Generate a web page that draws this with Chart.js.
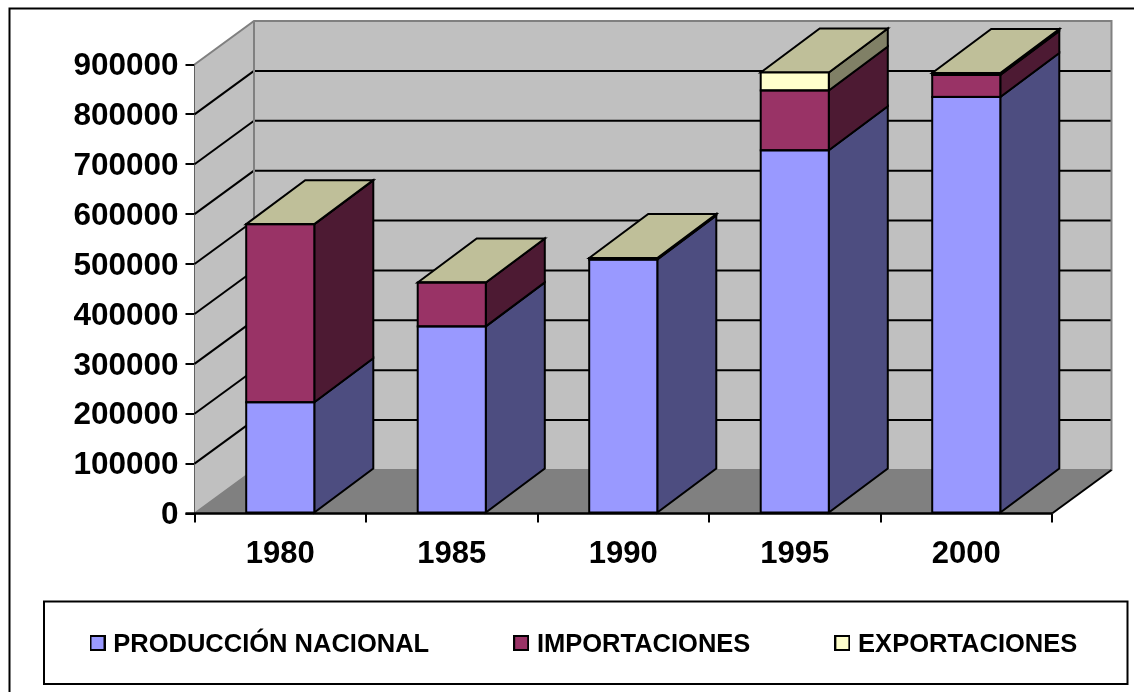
<!DOCTYPE html>
<html><head><meta charset="utf-8">
<style>html,body{margin:0;padding:0;background:#fff}#w{width:1134px;height:692px;position:relative}canvas{display:block}</style>
<script src="https://cdn.jsdelivr.net/npm/chart.js@4"></script>
</head><body><div id="w"><canvas id="c" width="1134" height="692"></canvas></div>
<script>
const years = ['1980','1985','1990','1995','2000'];
const produccion = [223000,375000,509000,728000,835000];
const importaciones = [357000,88000,2000,120000,44000];
const exportaciones = [0,0,1000,36000,4000];
const axisMax = 900000, axisStep = 100000;
const DX = 59.5, DY = -43.5;
const BAR_DX = 59, BAR_DY = -44;
const sideColors = ['#4D4D80','#4D1A33','#808066'];
const topColor = '#BFBF99';
const FONT = '"Liberation Sans",Arial,sans-serif';

function poly(ctx, pts, fill, stroke, lw){
  ctx.beginPath();
  pts.forEach((p,i)=> i?ctx.lineTo(p[0],p[1]):ctx.moveTo(p[0],p[1]));
  ctx.closePath();
  if(fill){ctx.fillStyle=fill;ctx.fill();}
  if(stroke){ctx.strokeStyle=stroke;ctx.lineWidth=lw||2;ctx.lineJoin='miter';ctx.stroke();}
}
function line(ctx,x1,y1,x2,y2,c,lw){
  ctx.beginPath();ctx.moveTo(x1,y1);ctx.lineTo(x2,y2);ctx.strokeStyle=c;ctx.lineWidth=lw;ctx.stroke();
}
function swatch(color){
  const c=document.createElement('canvas');c.width=16;c.height=20;
  const g=c.getContext('2d');
  g.fillStyle='#000';g.fillRect(0,0,16,16);
  g.fillStyle=color;g.fillRect(2,2,12,12);
  return c;
}
const LEGEND_PAD = 89;
const threeD = {
  id:'threeD',
  beforeLayout(chart){
    const lg=chart.legend;
    if(lg && !lg._wrapped){
      const f=lg.fit;
      lg.fit=function(){ this.maxWidth=4000; f.call(this); this.width=1134; this.height=83; };
      lg._wrapped=true;
    }
  },
  afterLayout(chart){
    const lg=chart.legend;
    lg.left=94.5-LEGEND_PAD; lg.right=lg.left+4000;
    lg.top=645-LEGEND_PAD-12.75; lg.bottom=lg.top+400;
  },
  beforeDraw(chart){
    const ctx=chart.ctx;
    ctx.save();
    ctx.fillStyle='#fff';ctx.fillRect(0,0,chart.width,chart.height);
    ctx.beginPath();ctx.moveTo(9.5,chart.height+2);ctx.lineTo(9.5,8.5);ctx.lineTo(chart.width+2,8.5);
    ctx.strokeStyle='#000';ctx.lineWidth=2;ctx.stroke();
    ctx.strokeStyle='#000';ctx.lineWidth=2;
    ctx.strokeRect(44,601.5,1083.5,82.5);
    ctx.restore();
    chart.scales.y.getLabelItems().forEach(it=>{
      if(!it._moved){ it._moved=true; it.options.translation=[it.options.translation[0],it.options.translation[1]+2]; }
    });
  },
  beforeDatasetsDraw(chart){
    const ctx=chart.ctx, {y}=chart.scales, a=chart.chartArea;
    const L=a.left,R=a.right,T=a.top,B=a.bottom;
    ctx.save();
    poly(ctx,[[L+DX,T+DY],[R+DX,T+DY],[R+DX,B+DY],[L+DX,B+DY]],'#C0C0C0');
    poly(ctx,[[L,T],[L+DX,T+DY],[L+DX,B+DY],[L,B]],'#C0C0C0');
    poly(ctx,[[L,B],[L+DX,B+DY],[R+DX,B+DY],[R,B]],'#808080');
    y.ticks.forEach(t=>{
      if(t.value===0||t.value===axisMax) return;
      const py=y.getPixelForValue(t.value);
      line(ctx,L,py,L+DX,py+DY,'#000',2);
      line(ctx,L+DX,py+DY,R+DX,py+DY,'#000',2);
    });
    ctx.beginPath();
    ctx.moveTo(L,T);ctx.lineTo(L+DX,T+DY);ctx.lineTo(R+DX,T+DY);ctx.lineTo(R+DX,B+DY);
    ctx.lineTo(L+DX,B+DY);ctx.lineTo(L,B);
    ctx.moveTo(L+DX,T+DY);ctx.lineTo(L+DX,B+DY);
    ctx.strokeStyle='#808080';ctx.lineWidth=2;ctx.stroke();
    line(ctx,R,B,R+DX,B+DY,'#000',2);
    chart.data.datasets.forEach((ds,i)=>{
      chart.getDatasetMeta(i).data.forEach(b=>{
        const r=b.x+b.width/2;
        poly(ctx,[[r,b.y],[r+BAR_DX,b.y+BAR_DY],[r+BAR_DX,b.base+BAR_DY],[r,b.base]],sideColors[i],'#000',2);
      });
    });
    const last=chart.data.datasets.length-1;
    chart.getDatasetMeta(last).data.forEach(b=>{
      const l=b.x-b.width/2,r=b.x+b.width/2;
      poly(ctx,[[l,b.y],[l+BAR_DX,b.y+BAR_DY],[r+BAR_DX,b.y+BAR_DY],[r,b.y]],topColor,'#000',2);
    });
    ctx.restore();
  },
  afterDatasetsDraw(chart){
    const ctx=chart.ctx;
    ctx.save();
    chart.data.datasets.forEach((ds,i)=>{
      chart.getDatasetMeta(i).data.forEach(b=>{
        const l=b.x-b.width/2,r=b.x+b.width/2;
        ctx.strokeStyle='#000';ctx.lineWidth=2;
        ctx.strokeRect(l,b.y,r-l,b.base-b.y);
      });
    });
    const a=chart.chartArea;
    line(ctx,a.left-9,a.bottom,a.right,a.bottom,'#000',2.5);
    ctx.restore();
  }
};
new Chart(document.getElementById('c'),{
  type:'bar',
  plugins:[threeD],
  data:{labels:years,datasets:[
    {label:'PRODUCCIÓN NACIONAL',data:produccion,backgroundColor:'#9999FF'},
    {label:'IMPORTACIONES',data:importaciones,backgroundColor:'#993366'},
    {label:'EXPORTACIONES',data:exportaciones,backgroundColor:'#FFFFCC'}
  ]},
  options:{
    responsive:false,animation:false,
    layout:{padding:{top:64.5,right:82,left:0,bottom:8}},
    datasets:{bar:{categoryPercentage:1,barPercentage:0.397,borderWidth:0}},
    scales:{
      x:{stacked:true,
        afterFit(s){s.height=87.5;},
        grid:{offset:true,drawOnChartArea:false,drawTicks:true,tickLength:9,color:'#000',lineWidth:2},
        border:{display:false},
        ticks:{color:'#000',padding:13,maxRotation:0,font:{family:FONT,size:31,weight:'bold'}}
      },
      y:{stacked:true,min:0,max:axisMax,
        afterFit(s){s.width=194.5;},
        grid:{drawOnChartArea:false,drawTicks:true,tickLength:9,color:'#000',lineWidth:2},
        border:{display:true,color:'#000',width:2},
        ticks:{stepSize:axisStep,autoSkip:false,color:'#000',padding:7,font:{family:FONT,size:31.5,weight:'bold'},callback:v=>String(v)}
      }
    },
    plugins:{
      tooltip:{enabled:false},title:{display:false},
      legend:{display:true,position:'bottom',align:'start',
        labels:{boxWidth:6,boxHeight:6,usePointStyle:true,padding:LEGEND_PAD,color:'#000',
          font:{family:FONT,size:25.5,weight:'bold'},
          generateLabels(ch){return ch.data.datasets.map((d,i)=>({text:d.label,pointStyle:swatch(d.backgroundColor),fillStyle:d.backgroundColor,strokeStyle:'#000',lineWidth:2,datasetIndex:i,fontColor:'#000'}));}
        }
      }
    }
  }
});
</script></body></html>
